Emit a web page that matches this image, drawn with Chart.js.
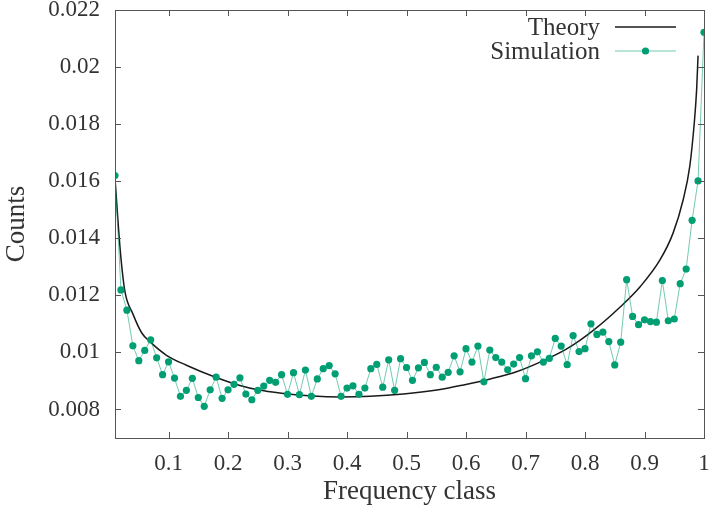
<!DOCTYPE html>
<html>
<head>
<meta charset="utf-8">
<script src="https://cdn.jsdelivr.net/npm/chart.js@4.4.1/dist/chart.umd.min.js"></script>
<style>
  html, body { margin: 0; padding: 0; background: #fff; }
  canvas { display: block; }
</style>
</head>
<body>
<canvas id="chart" width="709" height="508"></canvas>
<script>
// Simulation: frequency classes and counts
const simX = [
  0.01, 0.02, 0.03, 0.04, 0.05, 0.06, 0.07, 0.08, 0.09, 0.10,
  0.11, 0.12, 0.13, 0.14, 0.15, 0.16, 0.17, 0.18, 0.19, 0.20,
  0.21, 0.22, 0.23, 0.24, 0.25, 0.26, 0.27, 0.28, 0.29, 0.30,
  0.31, 0.32, 0.33, 0.34, 0.35, 0.36, 0.37, 0.38, 0.39, 0.40,
  0.41, 0.42, 0.43, 0.44, 0.45, 0.46, 0.47, 0.48, 0.49, 0.50,
  0.51, 0.52, 0.53, 0.54, 0.55, 0.56, 0.57, 0.58, 0.59, 0.60,
  0.61, 0.62, 0.63, 0.64, 0.65, 0.66, 0.67, 0.68, 0.69, 0.70,
  0.71, 0.72, 0.73, 0.74, 0.75, 0.76, 0.77, 0.78, 0.79, 0.80,
  0.81, 0.82, 0.83, 0.84, 0.85, 0.86, 0.87, 0.88, 0.89, 0.90,
  0.91, 0.92, 0.93, 0.94, 0.95, 0.96, 0.97, 0.98, 0.99, 1.00
];
const simY = [
  0.01620, 0.01219, 0.01148, 0.01023, 0.00971, 0.01007, 0.01044, 0.00981, 0.00922, 0.00967,
  0.00910, 0.00846, 0.00867, 0.00909, 0.00842, 0.00811, 0.00869, 0.00913, 0.00839, 0.00869,
  0.00888, 0.00911, 0.00854, 0.00834, 0.00867, 0.00882, 0.00902, 0.00895, 0.00922, 0.00853,
  0.00929, 0.00852, 0.00938, 0.00846, 0.00907, 0.00943, 0.00954, 0.00925, 0.00846, 0.00875,
  0.00883, 0.00853, 0.00875, 0.00943, 0.00958, 0.00878, 0.00974, 0.00867, 0.00978, 0.00947,
  0.00902, 0.00946, 0.00965, 0.00922, 0.00948, 0.00913, 0.00930, 0.00988, 0.00932, 0.01013,
  0.00966, 0.01022, 0.00897, 0.01008, 0.00982, 0.00966, 0.00939, 0.00959, 0.00982, 0.00908,
  0.00988, 0.01002, 0.00966, 0.00979, 0.01049, 0.01022, 0.00957, 0.01059, 0.01003, 0.01013,
  0.01100, 0.01063, 0.01071, 0.01038, 0.00956, 0.01036, 0.01255, 0.01126, 0.01097, 0.01114,
  0.01108, 0.01106, 0.01252, 0.01111, 0.01117, 0.01241, 0.01292, 0.01463, 0.01601, 0.02122
];

// Theory curve
const theoryX = [
  0.010, 0.0157, 0.0201, 0.0268, 0.040, 0.055, 0.070, 0.0965, 0.130, 0.180,
  0.220, 0.250, 0.290, 0.343, 0.388, 0.439, 0.495, 0.551, 0.596, 0.641,
  0.686, 0.731, 0.770, 0.815, 0.860, 0.893, 0.926, 0.948, 0.965, 0.976,
  0.9836, 0.9876, 0.990
];
const theoryY = [
  0.01610, 0.01441, 0.01328, 0.01212, 0.01135, 0.01068, 0.01035, 0.00990, 0.00955, 0.00912,
  0.00884, 0.00869, 0.00857, 0.00847, 0.00844, 0.00846, 0.00854, 0.00868, 0.00886, 0.00907,
  0.00933, 0.00972, 0.01013, 0.01079, 0.01161, 0.01231, 0.01324, 0.01418, 0.01535, 0.01651,
  0.01803, 0.01920, 0.02040
];

const xTicks = [0.1, 0.2, 0.3, 0.4, 0.5, 0.6, 0.7, 0.8, 0.9, 1.0];
const yTicks = [0.008, 0.010, 0.012, 0.014, 0.016, 0.018, 0.020, 0.022];

const SERIF = '"Liberation Serif", "Times New Roman", serif';
const simColor = '#009e73';
const simLine = 'rgba(0, 158, 115, 0.55)';
const theoryColor = '#1a1a1a';
const axisColor = '#555';
const textColor = '#333';

const fmt = v => String(+v.toFixed(4));

// gnuplot style box with inward ticks on all four sides
const framePlugin = {
  id: 'frame',
  afterDatasetsDraw(chart) {
    const { ctx, chartArea: a, scales: { x, y } } = chart;
    const tl = 6;
    ctx.save();
    ctx.strokeStyle = axisColor;
    ctx.lineWidth = 1;
    ctx.beginPath();
    xTicks.forEach(v => {
      const px = Math.round(x.getPixelForValue(v)) + 0.5;
      ctx.moveTo(px, a.bottom); ctx.lineTo(px, a.bottom - tl);
      ctx.moveTo(px, a.top); ctx.lineTo(px, a.top + tl);
    });
    yTicks.forEach(v => {
      const py = Math.round(y.getPixelForValue(v)) + 0.5;
      ctx.moveTo(a.left, py); ctx.lineTo(a.left + tl, py);
      ctx.moveTo(a.right, py); ctx.lineTo(a.right - tl, py);
    });
    ctx.stroke();
    ctx.strokeRect(Math.round(a.left) + 0.5, Math.round(a.top) + 0.5,
      Math.round(a.right - a.left), Math.round(a.bottom - a.top));
    ctx.restore();
  }
};

// key in the upper right, text to the left of the sample
const keyPlugin = {
  id: 'key',
  afterDraw(chart) {
    const { ctx, chartArea: a } = chart;
    const textRight = a.right - 104;
    const lineL = a.right - 89, lineR = a.right - 28;
    const rows = [
      { label: 'Theory', y: a.top + 17, color: theoryColor, width: 1.5, dot: false },
      { label: 'Simulation', y: a.top + 41, color: simLine, width: 1.2, dot: true }
    ];
    ctx.save();
    ctx.font = '25px ' + SERIF;
    ctx.fillStyle = textColor;
    ctx.textAlign = 'right';
    ctx.textBaseline = 'middle';
    rows.forEach(r => {
      ctx.fillText(r.label, textRight, r.y + 1);
      ctx.strokeStyle = r.color;
      ctx.lineWidth = r.width;
      ctx.beginPath();
      ctx.moveTo(lineL, r.y); ctx.lineTo(lineR, r.y);
      ctx.stroke();
      if (r.dot) {
        ctx.fillStyle = simColor;
        ctx.beginPath();
        ctx.arc((lineL + lineR) / 2, r.y, 3.6, 0, Math.PI * 2);
        ctx.fill();
        ctx.fillStyle = textColor;
      }
    });
    ctx.restore();
  }
};

new Chart(document.getElementById('chart'), {
  type: 'scatter',
  data: {
    datasets: [
      {
        label: 'Theory',
        data: theoryX.map((x, i) => ({ x, y: theoryY[i] })),
        showLine: true,
        borderColor: theoryColor,
        borderWidth: 1.5,
        pointRadius: 0,
        cubicInterpolationMode: 'monotone',
        order: 2
      },
      {
        label: 'Simulation',
        data: simX.map((x, i) => ({ x, y: simY[i] })),
        showLine: true,
        borderColor: simLine,
        borderWidth: 1,
        backgroundColor: simColor,
        pointBackgroundColor: simColor,
        pointBorderWidth: 0,
        pointRadius: 3.6,
        tension: 0,
        order: 1
      }
    ]
  },
  options: {
    responsive: false,
    animation: false,
    events: [],
    layout: { padding: { top: 10, right: 5, left: 0, bottom: 0 } },
    plugins: { legend: { display: false }, tooltip: { enabled: false } },
    scales: {
      x: {
        type: 'linear',
        min: 0.01,
        max: 1,
        grid: { display: false, drawTicks: false },
        border: { display: false },
        afterBuildTicks: s => { s.ticks = xTicks.map(value => ({ value })); },
        afterFit: s => { s.height = 70; s.paddingLeft = 0; s.paddingRight = 0; },
        ticks: {
          autoSkip: false,
          maxRotation: 0,
          padding: 12,
          color: textColor,
          font: { family: SERIF, size: 23 },
          callback: v => fmt(v)
        },
        title: {
          display: true,
          text: 'Frequency class',
          color: textColor,
          font: { family: SERIF, size: 27 },
          padding: { top: 0, bottom: 0 }
        }
      },
      y: {
        min: 0.007,
        max: 0.022,
        grid: { display: false, drawTicks: false },
        border: { display: false },
        afterBuildTicks: s => { s.ticks = yTicks.map(value => ({ value })); },
        afterFit: s => { s.width = 115; s.paddingTop = 0; s.paddingBottom = 0; },
        ticks: {
          padding: 15,
          color: textColor,
          font: { family: SERIF, size: 23 },
          callback: v => fmt(v)
        },
        title: {
          display: true,
          text: 'Counts',
          color: textColor,
          font: { family: SERIF, size: 27 },
          padding: { top: 1, bottom: 0 }
        }
      }
    }
  },
  plugins: [framePlugin, keyPlugin]
});
</script>
</body>
</html>
